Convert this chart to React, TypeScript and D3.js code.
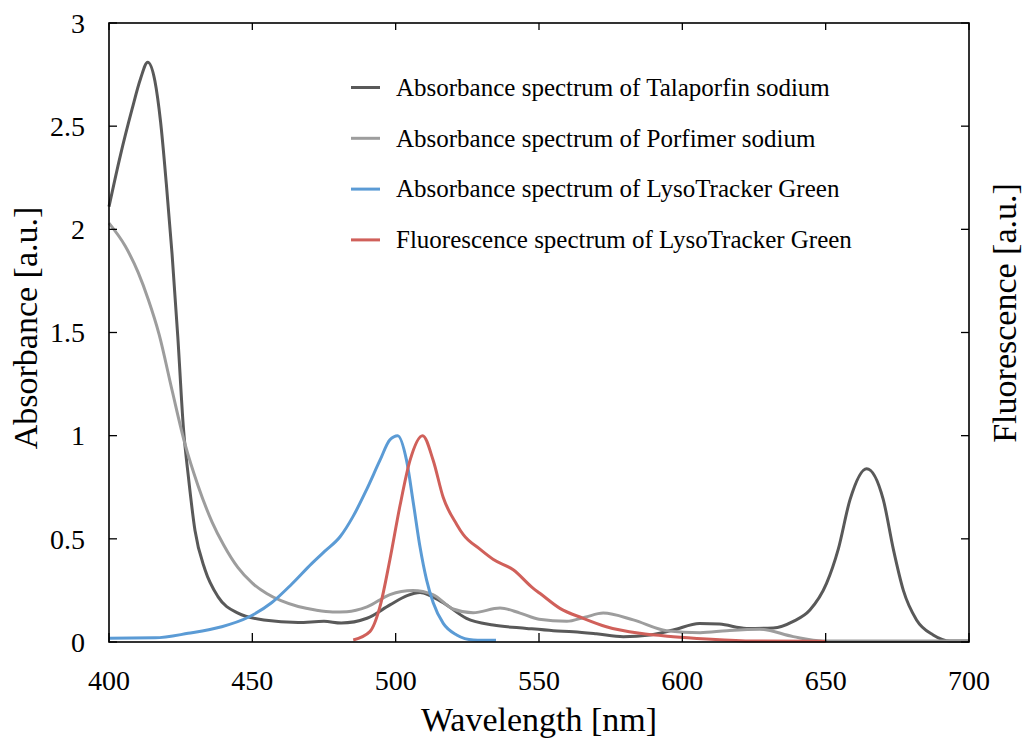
import React from "react";
import * as d3 from "d3";

const W = 1026;
const H = 743;

const talaporfinNm = [400, 404, 408, 411, 413.5, 416, 418, 420, 422, 424, 426, 427.7, 430, 433.5, 438, 445, 454, 466, 475, 481, 490, 498, 504, 508.5, 512, 516.6, 524.7, 534, 545.7, 555, 562, 570, 579.4, 588.7, 596.8, 606, 613, 622.4, 631.7, 638.7, 644.5, 650.3, 654.4, 658.5, 664.3, 670.1, 673.6, 677.1, 681.7, 687.5, 693.4, 700];
const talaporfinAbs = [2.11, 2.36, 2.58, 2.73, 2.81, 2.72, 2.52, 2.22, 1.88, 1.48, 1.03, 0.8, 0.54, 0.35, 0.22, 0.14, 0.107, 0.095, 0.1, 0.092, 0.115, 0.18, 0.225, 0.24, 0.225, 0.19, 0.115, 0.082, 0.066, 0.055, 0.05, 0.04, 0.026, 0.034, 0.058, 0.09, 0.087, 0.066, 0.068, 0.1, 0.155, 0.284, 0.45, 0.69, 0.84, 0.69, 0.45, 0.25, 0.107, 0.034, 0.005, 0.005];

const porfimerNm = [400, 405.6, 410.2, 413.7, 417.5, 422, 426.5, 431, 436, 440, 445, 450, 455, 460, 466, 472, 478, 483, 490, 498, 506, 513, 520, 527, 536.4, 543.4, 550, 559.7, 566, 572.4, 582.9, 594.5, 606.2, 615.5, 627, 638.7, 649, 700];
const porfimerAbs = [2.03, 1.92, 1.79, 1.66, 1.49, 1.22, 0.96, 0.76, 0.58, 0.47, 0.36, 0.285, 0.235, 0.2, 0.172, 0.155, 0.146, 0.147, 0.17, 0.23, 0.25, 0.23, 0.16, 0.142, 0.165, 0.14, 0.11, 0.1, 0.12, 0.14, 0.107, 0.055, 0.045, 0.055, 0.062, 0.026, 0.005, 0.005];

const lysoAbsNm = [400, 416, 427.6, 439.3, 448.6, 456.7, 463.7, 470.7, 475.3, 480.6, 485.2, 489.9, 494.5, 498, 500.7, 503.8, 506.2, 508.5, 510.8, 513.1, 516.6, 521.3, 527.1, 535];
const lysoAbs = [0.018, 0.02, 0.042, 0.074, 0.12, 0.19, 0.28, 0.38, 0.44, 0.51, 0.61, 0.74, 0.88, 0.98, 1.0, 0.88, 0.67, 0.46, 0.3, 0.19, 0.09, 0.034, 0.01, 0.008];

const lysoFlNm = [485.2, 491, 494.5, 498, 501.5, 505, 509.4, 513.1, 516.6, 521.3, 523.6, 529.4, 534.1, 541, 548, 550.3, 557.3, 565.4, 573.5, 585.2, 596.8, 608.5, 624.8, 650];
const lysoFl = [0.01, 0.05, 0.17, 0.4, 0.66, 0.88, 1.0, 0.88, 0.7, 0.57, 0.52, 0.45, 0.4, 0.35, 0.26, 0.236, 0.163, 0.115, 0.074, 0.042, 0.026, 0.015, 0.005, 0.003];

const xTicks = [400, 450, 500, 550, 600, 650, 700];
const yTicks = [0, 0.5, 1, 1.5, 2, 2.5, 3];

const seriesNames = [
  "Absorbance spectrum of Talaporfin sodium",
  "Absorbance spectrum of Porfimer sodium",
  "Absorbance spectrum of LysoTracker Green",
  "Fluorescence spectrum of LysoTracker Green",
];
const seriesColors = ["#595959", "#9d9d9d", "#5b9bd5", "#d0605a"];

const series = [
  { nm: talaporfinNm, v: talaporfinAbs },
  { nm: porfimerNm, v: porfimerAbs },
  { nm: lysoAbsNm, v: lysoAbs },
  { nm: lysoFlNm, v: lysoFl },
];

const L = 109, R = 969, T = 23, B = 642;

export default function App() {
  const x = d3.scaleLinear().domain([400, 700]).range([L, R]);
  const y = d3.scaleLinear().domain([0, 3]).range([B, T]);
  const font = "'Liberation Serif', 'Times New Roman', serif";

  return (
    <svg width={W} height={H} style={{ position: "absolute", left: 0, top: 0, background: "#fff" }} fontFamily={font}>
      <rect x={0} y={0} width={W} height={H} fill="#fff" />
      {series.map((s, i) => {
        const pts = s.nm.map((n, j) => [n, s.v[j]] as [number, number]);
        const line = d3.line<[number, number]>().x((d) => x(d[0])).y((d) => y(d[1])).curve(d3.curveMonotoneX);
        return <path key={i} d={line(pts) || ""} fill="none" stroke={seriesColors[i]} strokeWidth={3} strokeLinejoin="round" />;
      })}
      <rect x={L} y={T} width={R - L} height={B - T} fill="none" stroke="#000" strokeWidth={1.6} />
      {xTicks.map((t) => (
        <g key={"x" + t}>
          <line x1={x(t)} x2={x(t)} y1={B} y2={B - 9} stroke="#000" strokeWidth={1.3} />
          <line x1={x(t)} x2={x(t)} y1={T} y2={T + 7} stroke="#000" strokeWidth={1.3} />
          <text x={x(t)} y={690} fontSize={28} textAnchor="middle" fill="#000">{t}</text>
        </g>
      ))}
      {yTicks.map((t) => (
        <g key={"y" + t}>
          <line x1={L} x2={L + 8} y1={y(t)} y2={y(t)} stroke="#000" strokeWidth={1.3} />
          <line x1={R} x2={R - 8} y1={y(t)} y2={y(t)} stroke="#000" strokeWidth={1.3} />
          <text x={85} y={y(t)} dy="0.35em" fontSize={28} textAnchor="end" fill="#000">{t}</text>
        </g>
      ))}
      <text x={539} y={731} fontSize={34} textAnchor="middle" fill="#000">Wavelength [nm]</text>
      <text transform={`translate(37,328) rotate(-90)`} fontSize={34} textAnchor="middle" fill="#000">Absorbance [a.u.]</text>
      <text transform={`translate(1016,313) rotate(-90)`} fontSize={34} textAnchor="middle" fill="#000">Fluorescence [a.u.]</text>
      {seriesNames.map((n, i) => {
        const ly = 87.5 + i * 50.8;
        return (
          <g key={n}>
            <line x1={351} x2={380} y1={ly} y2={ly} stroke={seriesColors[i]} strokeWidth={3} />
            <text x={396} y={ly} dy="0.33em" fontSize={25} fill="#000">{n}</text>
          </g>
        );
      })}
    </svg>
  );
}
